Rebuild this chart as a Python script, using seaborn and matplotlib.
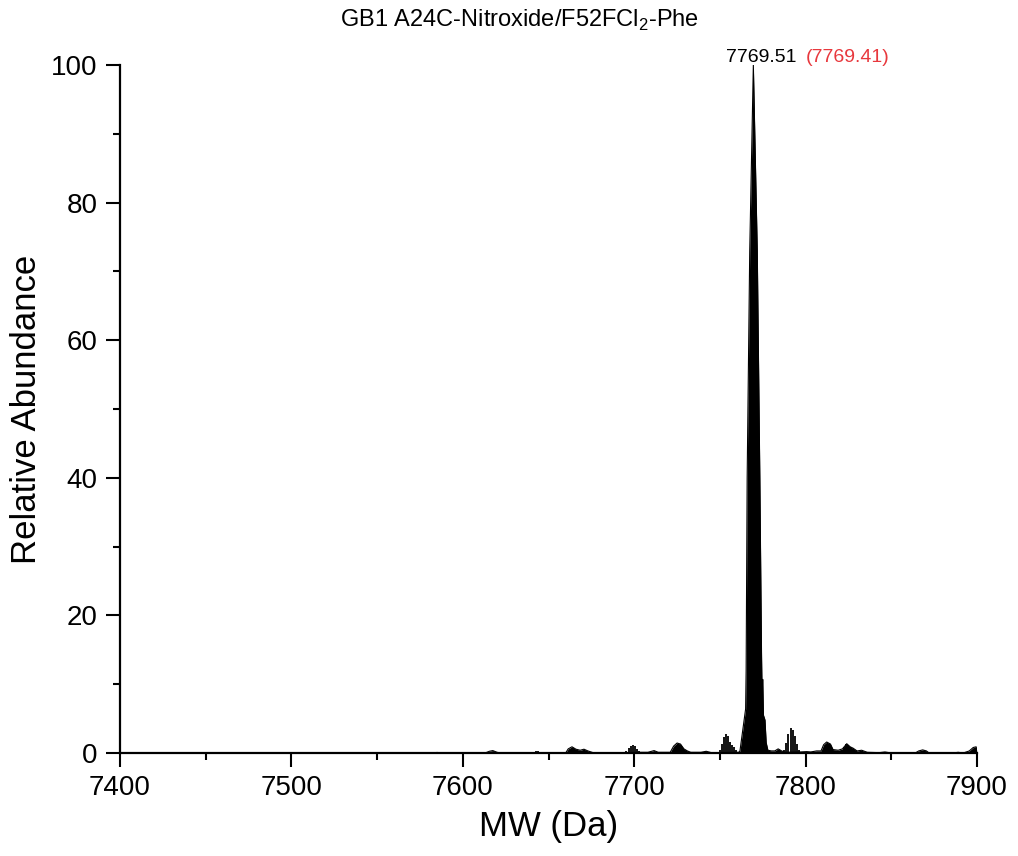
import matplotlib
matplotlib.use("Agg")
import matplotlib.pyplot as plt
import seaborn as sns
import pandas as pd
from matplotlib.ticker import MultipleLocator

# ---- data ----
mw = [7400, 7583, 7585, 7587, 7613, 7615.5, 7617.5, 7620, 7622, 7660,
      7661.5, 7663.7, 7666, 7668.5, 7670.7, 7673, 7676, 7694, 7703, 7708,
      7711.6, 7714, 7721, 7723, 7725, 7727, 7729, 7731, 7733, 7739,
      7742, 7745, 7749, 7761.0, 7761.7, 7765.0, 7765.3, 7765.9, 7767.4, 7769.51,
      7771.8, 7773.3, 7774.3, 7774.6, 7775.0, 7775.4, 7776.3, 7777.0, 7778.0, 7780,
      7782, 7784, 7786, 7788, 7797, 7800.6, 7803, 7806.4, 7809, 7810.5,
      7812.3, 7814.5, 7816, 7819, 7821.5, 7824, 7826, 7827.7, 7830, 7832.7,
      7836, 7843, 7846.3, 7850, 7864, 7866, 7868.3, 7870.5, 7872, 7886,
      7889, 7892, 7895.5, 7897.8, 7899.5, 7900]
abundance = [0, 0, 0.08, 0, 0, 0.25, 0.35, 0.1, 0, 0,
             0.6, 0.9, 0.55, 0.4, 0.55, 0.3, 0.05, 0.05, 0.1, 0.1,
             0.35, 0.1, 0.1, 1.0, 1.45, 1.3, 0.6, 0.3, 0.1, 0.1,
             0.25, 0.05, 0.05, 0.1, 0.3, 6.4, 12, 40, 73, 100,
             73, 40, 14, 9, 10.7, 5.5, 4.8, 1.5, 0.4, 0.3,
             0.3, 0.6, 0.3, 0.1, 0.15, 0.2, 0.15, 0.3, 0.3, 1.2,
             1.6, 1.3, 0.5, 0.4, 0.6, 1.35, 0.9, 0.7, 0.3, 0.4,
             0.1, 0.05, 0.15, 0, 0, 0.3, 0.45, 0.3, 0, 0,
             0.1, 0, 0.3, 0.8, 0.9, 0]

# hatched (stick) clusters
stick_mw = [7641.5, 7642.7, 7643.9, 7645.1,
            7695.5, 7696.7, 7697.9, 7699.1, 7700.3, 7701.5, 7702.7,
            7749.8, 7751.0, 7752.2, 7753.4, 7754.6, 7755.8, 7757.0, 7758.2, 7759.4, 7760.6,
            7787.6, 7788.8, 7790.0, 7791.2, 7792.4, 7793.6, 7794.8, 7796.0,
            7822.4, 7823.6, 7824.8, 7826.0]
stick_ab = [0.15, 0.25, 0.25, 0.12,
            0.3, 0.7, 1.0, 1.1, 0.95, 0.6, 0.25,
            0.4, 1.3, 2.3, 2.7, 2.5, 1.6, 1.2, 0.9, 0.5, 0.2,
            0.5, 1.4, 2.8, 3.6, 3.4, 2.4, 1.3, 0.4,
            0.9, 1.3, 1.2, 0.8]

x_ticks = [7400, 7500, 7600, 7700, 7800, 7900]
y_ticks = [0, 20, 40, 60, 80, 100]
title = r"GB1 A24C-Nitroxide/F52FCl$_{\mathregular{2}}$-Phe"
peak_mw = 7769.51
peak_label = "7769.51"
calc_label = "(7769.41)"
x_label = "MW (Da)"
y_label = "Relative Abundance"

# ---- style ----
sns.set_theme(style="ticks")
plt.rcParams["font.family"] = ["Liberation Sans", "DejaVu Sans"]
plt.rcParams["mathtext.fontset"] = "custom"
plt.rcParams["mathtext.rm"] = "Liberation Sans"
plt.rcParams["text.color"] = "black"
plt.rcParams["axes.labelcolor"] = "black"

fig = plt.figure(figsize=(10.18, 8.56), dpi=100)
ax = fig.add_axes([0.11788, 0.12033, 0.84185, 0.80373])

df = pd.DataFrame({"mw": mw, "abundance": abundance})
ax.fill_between(df["mw"], 0, df["abundance"], color="black", lw=0)
sns.lineplot(data=df, x="mw", y="abundance", color="black", lw=0.8, ax=ax,
             estimator=None, sort=False)
ax.vlines(stick_mw, 0, stick_ab, color="black", lw=1.3)

ax.set_xlim(7400, 7900)
ax.set_ylim(0, 100)
ax.set_xticks(x_ticks)
ax.set_yticks(y_ticks)
ax.xaxis.set_minor_locator(MultipleLocator(50))
ax.yaxis.set_minor_locator(MultipleLocator(10))

sns.despine(ax=ax)
for s in ["left", "bottom"]:
    ax.spines[s].set_linewidth(1.6)
    ax.spines[s].set_color("black")
ax.tick_params(axis="both", which="major", direction="out", length=10,
               width=1.5, labelsize=20, pad=6, colors="black")
ax.tick_params(axis="both", which="minor", direction="out", length=5,
               width=1.5, colors="black")

ax.set_xlabel(x_label, fontsize=25, labelpad=6, color="black")
ax.set_ylabel(y_label, fontsize=25, labelpad=6, color="black")

fig.text(0.51, 1 - 20 / 856, title, fontsize=17, ha="center", va="center",
         color="black")

ax.annotate(peak_label, xy=(peak_mw, 100), xytext=(6, 2),
            textcoords="offset points", ha="center", va="baseline",
            fontsize=14, color="black", annotation_clip=False)
ax.annotate(calc_label, xy=(peak_mw, 100), xytext=(38, 2),
            textcoords="offset points", ha="left", va="baseline",
            fontsize=14, color="#e8383d", annotation_clip=False)

fig.savefig("out.png", dpi=100)
